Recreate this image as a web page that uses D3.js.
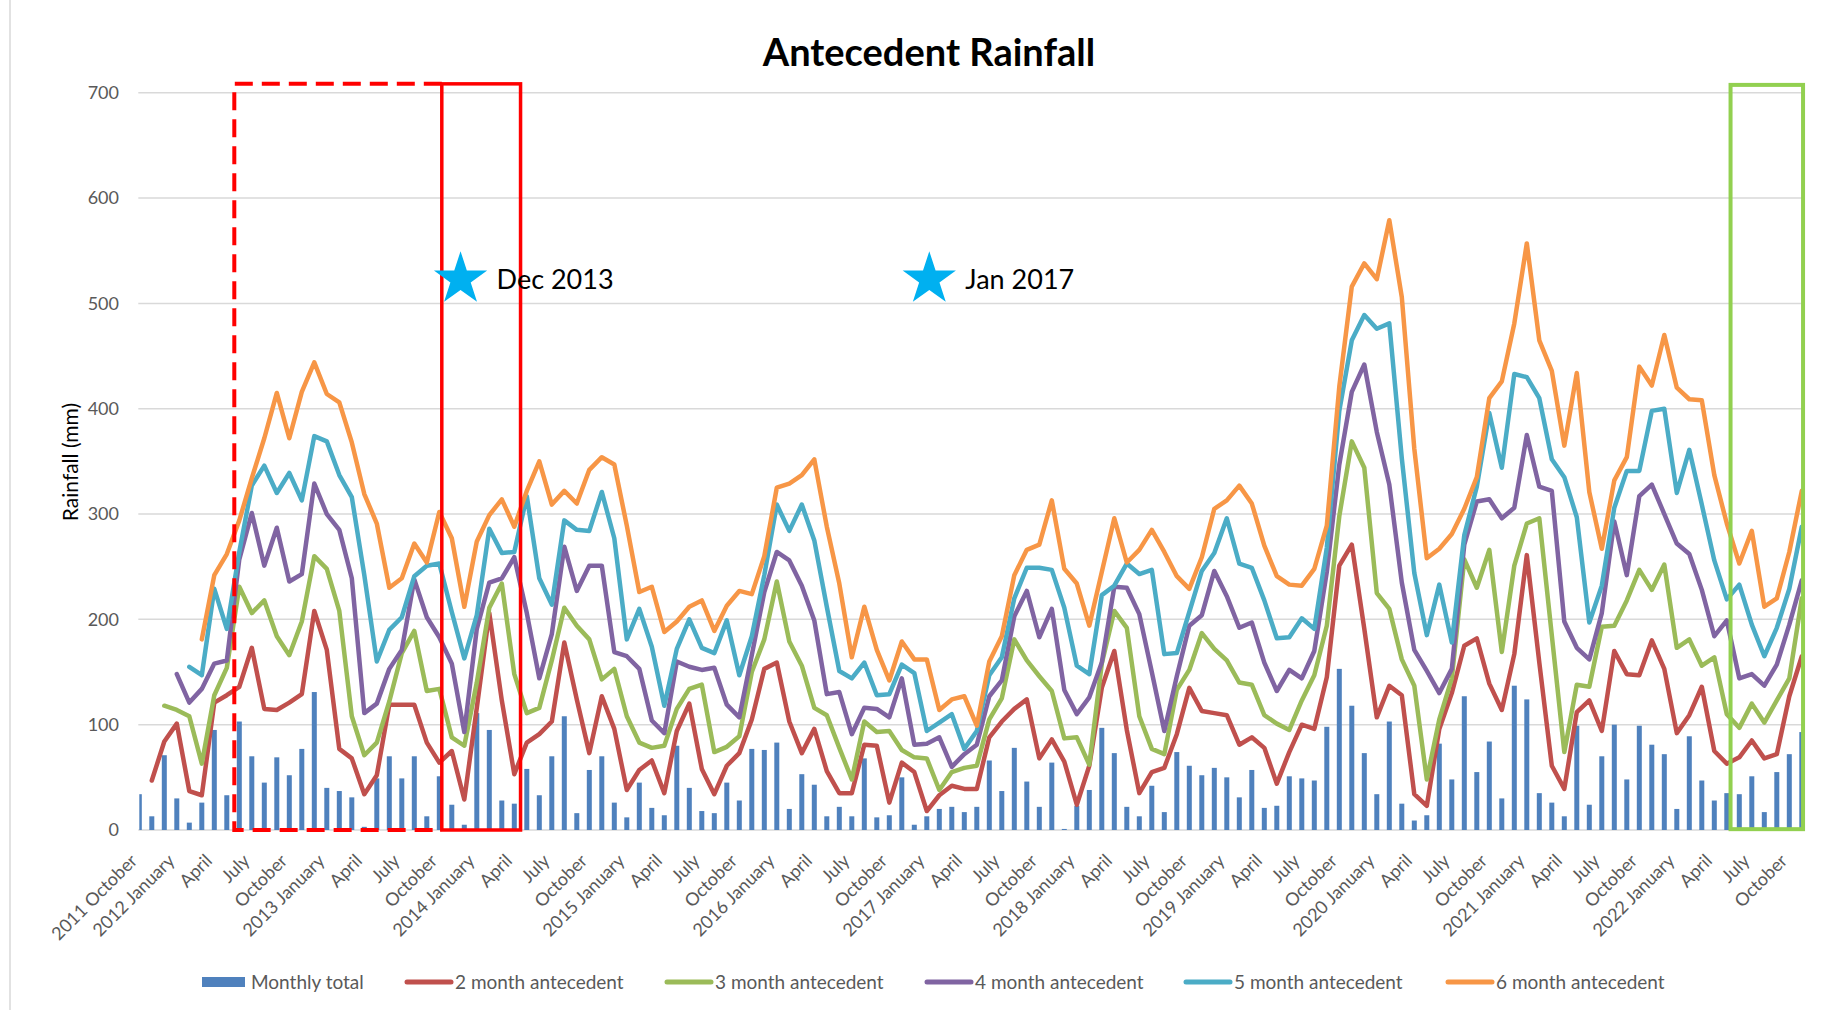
<html>
<head>
<meta charset="utf-8">
<title>Antecedent Rainfall</title>
<style>
body {
  margin: 0;
  background: #fff;
}

#chart text {
  font-family: Lato, 'Open Sans', sans-serif;
}

#chart .grid line {
  stroke: #d9d9d9;
  stroke-width: 1.5;
}

#chart .ytick {
  font-size: 18px;
  fill: #595959;
}

#chart .xtick {
  font-size: 18px;
  fill: #595959;
}

#chart .legend text {
  font-size: 19px;
  fill: #595959;
}

#chart .series {
  fill: none;
  stroke-width: 4.5;
  stroke-linejoin: round;
  stroke-linecap: round;
}
</style>
</head>
<body>

<svg id='chart' width='1828' height='1010'></svg>

<script src='https://cdn.jsdelivr.net/npm/d3@7'></script>
<script>
// Monthly rainfall, Oct 2011 .. Nov 2022 (mm).
const monthlyTotal = [
  34, 13, 71, 30, 7, 26, 95, 33, 103, 70,
  45, 69, 52, 77, 131, 40, 37, 31, 3, 49,
  70, 49, 70, 13, 51, 24, 5, 111, 95, 28,
  25, 58, 33, 70, 108, 16, 57, 70, 26, 12,
  45, 21, 14, 80, 40, 18, 16, 45, 28, 77,
  76, 83, 20, 53, 43, 13, 22, 13, 68, 12,
  14, 50, 5, 13, 20, 22, 17, 22, 66, 37,
  78, 46, 22, 64, 1, 23, 38, 97, 73, 22,
  13, 42, 17, 74, 61, 52, 59, 50, 31, 57,
  21, 23, 51, 49, 47, 98, 153, 118, 73, 34,
  103, 25, 9, 14, 82, 48, 127, 55, 84, 30,
  137, 124, 35, 26, 13, 99, 24, 70, 100, 48,
  99, 81, 72, 20, 89, 47, 28, 35, 34, 51,
  17, 55, 72, 93
];

const ante2 = [
  null, 47, 84, 101, 37, 33, 121, 128, 136, 173,
  115, 114, 121, 129, 208, 171, 77, 68, 34, 52,
  119, 119, 119, 83, 64, 75, 29, 116, 206, 123,
  53, 83, 91, 103, 178, 124, 73, 127, 96, 38,
  57, 66, 35, 94, 120, 58, 34, 61, 73, 105,
  153, 159, 103, 73, 96, 56, 35, 35, 81, 80,
  26, 64, 55, 18, 33, 42, 39, 39, 88, 103,
  115, 124, 68, 86, 65, 24, 61, 135, 170, 95,
  35, 55, 59, 91, 135, 113, 111, 109, 81, 88,
  78, 44, 74, 100, 96, 145, 251, 271, 191, 107,
  137, 128, 34, 23, 96, 130, 175, 182, 139, 114,
  167, 261, 159, 61, 39, 112, 123, 94, 170, 148,
  147, 180, 153, 92, 109, 136, 75, 63, 69, 85,
  68, 72, 127, 165
];

const ante3 = [
  null, null, 118, 114, 108, 63, 128, 154, 231, 206,
  218, 184, 166, 198, 260, 248, 208, 108, 71, 83,
  122, 168, 189, 132, 134, 88, 80, 140, 211, 234,
  148, 111, 116, 161, 211, 194, 181, 143, 153, 108,
  83, 78, 80, 115, 134, 138, 74, 79, 89, 150,
  181, 236, 179, 156, 116, 109, 78, 48, 103, 93,
  94, 76, 69, 68, 38, 55, 59, 61, 105, 125,
  181, 161, 146, 132, 87, 88, 62, 158, 208, 192,
  108, 77, 72, 133, 152, 187, 172, 161, 140, 138,
  109, 101, 95, 123, 147, 194, 298, 369, 344, 225,
  210, 162, 137, 48, 105, 144, 257, 230, 266, 169,
  251, 291, 296, 185, 74, 138, 136, 193, 194, 218,
  247, 228, 252, 173, 181, 156, 164, 110, 97, 120,
  102, 123, 144, 220
];

const ante4 = [
  null, null, null, 148, 121, 134, 158, 161, 257, 301,
  251, 287, 236, 243, 329, 300, 285, 239, 111, 120,
  153, 171, 238, 202, 183, 158, 93, 191, 235, 239,
  259, 206, 144, 186, 269, 227, 251, 251, 169, 165,
  153, 104, 92, 160, 155, 152, 154, 119, 107, 166,
  226, 264, 256, 232, 199, 129, 131, 91, 116, 115,
  107, 144, 81, 82, 88, 60, 72, 81, 127, 142,
  203, 227, 183, 210, 133, 110, 126, 159, 231, 230,
  205, 150, 94, 146, 194, 204, 246, 222, 192, 197,
  159, 132, 152, 144, 170, 245, 347, 416, 442, 378,
  328, 235, 171, 151, 130, 153, 271, 312, 314, 296,
  306, 375, 326, 322, 198, 173, 162, 206, 293, 242,
  317, 328, 300, 272, 262, 228, 184, 199, 144, 148,
  137, 157, 195, 237
];

const ante5 = [
  null, null, null, null, 155, 147, 229, 191, 264, 327,
  346, 320, 339, 313, 374, 369, 337, 316, 242, 160,
  190, 202, 241, 251, 253, 207, 163, 204, 286, 263,
  264, 317, 239, 214, 294, 285, 284, 321, 277, 181,
  210, 174, 118, 172, 200, 173, 168, 199, 147, 184,
  242, 309, 284, 309, 275, 212, 151, 144, 159, 128,
  129, 157, 149, 94, 102, 110, 77, 94, 147, 164,
  220, 249, 249, 247, 211, 156, 148, 223, 232, 253,
  243, 247, 167, 168, 207, 246, 263, 296, 253, 249,
  218, 182, 183, 201, 191, 268, 398, 465, 489, 476,
  481, 353, 244, 185, 233, 178, 280, 326, 396, 344,
  433, 430, 410, 352, 335, 297, 197, 232, 306, 341,
  341, 398, 400, 320, 361, 309, 256, 219, 233, 195,
  165, 192, 229, 288
];

const ante6 = [
  null, null, null, null, null, 181, 242, 262, 294, 334,
  372, 415, 372, 416, 444, 414, 406, 368, 319, 291,
  230, 239, 272, 254, 302, 277, 212, 274, 299, 314,
  288, 322, 350, 309, 322, 310, 342, 354, 347, 289,
  226, 231, 188, 198, 212, 218, 189, 213, 227, 224,
  260, 325, 329, 337, 352, 288, 234, 164, 212, 171,
  142, 179, 162, 162, 114, 124, 127, 99, 160, 184,
  242, 266, 271, 313, 248, 234, 194, 245, 296, 254,
  266, 285, 264, 241, 229, 259, 305, 313, 327, 310,
  270, 241, 233, 232, 248, 289, 421, 516, 538, 523,
  579, 506, 362, 258, 267, 281, 305, 335, 410, 426,
  481, 557, 465, 436, 365, 434, 321, 267, 332, 354,
  440, 422, 470, 420, 409, 408, 337, 291, 253, 284,
  212, 220, 264, 322
];

// One label on every third month, starting Oct 2011.
const tickLabels = [
  '2011 October', '2012 January', 'April', 'July', 'October',
  '2013 January', 'April', 'July', 'October',
  '2014 January', 'April', 'July', 'October',
  '2015 January', 'April', 'July', 'October',
  '2016 January', 'April', 'July', 'October',
  '2017 January', 'April', 'July', 'October',
  '2018 January', 'April', 'July', 'October',
  '2019 January', 'April', 'July', 'October',
  '2020 January', 'April', 'July', 'October',
  '2021 January', 'April', 'July', 'October',
  '2022 January', 'April', 'July', 'October'
];

const yTicks = [0, 100, 200, 300, 400, 500, 600, 700];

const seriesNames = ['Monthly total', '2 month antecedent', '3 month antecedent',
                     '4 month antecedent', '5 month antecedent', '6 month antecedent'];
const seriesColors = ['#4f81bd', '#c0504d', '#9bbb59', '#8064a2', '#4bacc6', '#f79646'];

// Highlighted periods (month index ranges) and event markers.
const dashedBox = [7.6, 24.2];
const solidBox = [24.2, 30.5];
const greenBox = [127.3, 133.1];
const events = [
  {label: 'Dec 2013', month: 25.7, value: 523},
  {label: 'Jan 2017', month: 63.2, value: 523}
];


const svg = d3.select('#chart');
const plotLeft = 139.3, plotRight = 1801.8, plotTop = 92.8, plotBottom = 830;

const x = d3.scaleLinear().domain([0, monthlyTotal.length - 1]).range([plotLeft, plotRight]);
const y = d3.scaleLinear().domain([0, 700]).range([plotBottom, plotTop]);

// Chart frame edge.
svg.append('line')
  .attr('x1', 10).attr('x2', 10).attr('y1', 0).attr('y2', 1010)
  .attr('stroke', '#d9d9d9').attr('stroke-width', 1.5);

// Title.
svg.append('text')
  .attr('x', 929).attr('y', 66)
  .attr('text-anchor', 'middle')
  .style('font-size', '38px')
  .style('font-weight', 'bold')
  .text('Antecedent Rainfall');

// Gridlines and y labels.
const grid = svg.append('g').attr('class', 'grid');
grid.selectAll('line')
  .data(yTicks)
  .join('line')
  .attr('x1', plotLeft - 1).attr('x2', plotRight + 3)
  .attr('y1', d => y(d)).attr('y2', d => y(d));

svg.selectAll('.ytick')
  .data(yTicks)
  .join('text')
  .attr('class', 'ytick')
  .attr('x', 119)
  .attr('y', d => y(d))
  .attr('dy', '0.35em')
  .attr('text-anchor', 'end')
  .text(d => d);

svg.append('text')
  .attr('transform', 'translate(78, 462) rotate(-90)')
  .attr('text-anchor', 'middle')
  .style('font-size', '21px')
  .text('Rainfall (mm)');

// x labels, every third month.
svg.selectAll('.xtick')
  .data(tickLabels)
  .join('text')
  .attr('class', 'xtick')
  .attr('text-anchor', 'end')
  .attr('transform', (d, i) => `translate(${x(i * 3) - 1}, 862) rotate(-45)`)
  .text(d => d);

// Bars (half of the end bars sit outside the plot, like the original).
svg.append('clipPath').attr('id', 'plot-clip')
  .append('rect')
  .attr('x', plotLeft).attr('y', 0)
  .attr('width', plotRight - plotLeft + 3).attr('height', plotBottom);

svg.append('g')
  .attr('clip-path', 'url(#plot-clip)')
  .selectAll('rect')
  .data(monthlyTotal)
  .join('rect')
  .attr('x', (d, i) => x(i) - 2.5)
  .attr('width', 5)
  .attr('y', d => y(d))
  .attr('height', d => y(0) - y(d))
  .attr('fill', seriesColors[0]);

// Antecedent lines.
const line = d3.line()
  .defined(d => d != null)
  .x((d, i) => x(i))
  .y(d => y(d));

const lines = [ante2, ante3, ante4, ante5, ante6];
lines.forEach((arr, k) => {
  svg.append('path')
    .datum(arr)
    .attr('class', 'series')
    .attr('stroke', seriesColors[k + 1])
    .attr('d', line);
});

// Highlight boxes.
const boxTop = y(708.5);
svg.append('path')
  .attr('d', `M${x(dashedBox[1])},${boxTop} H${x(dashedBox[0])} V${plotBottom} H${x(dashedBox[1])}`)
  .attr('fill', 'none')
  .attr('stroke', '#ff0000')
  .attr('stroke-width', 4)
  .attr('stroke-dasharray', '18 9');

svg.append('rect')
  .attr('x', x(solidBox[0])).attr('y', boxTop)
  .attr('width', x(solidBox[1]) - x(solidBox[0]))
  .attr('height', plotBottom - boxTop)
  .attr('fill', 'none')
  .attr('stroke', '#ff0000')
  .attr('stroke-width', 3.5);

svg.append('rect')
  .attr('x', x(greenBox[0])).attr('y', y(707.5))
  .attr('width', x(greenBox[1]) - x(greenBox[0]))
  .attr('height', y(0.8) - y(707.5))
  .attr('fill', 'none')
  .attr('stroke', '#92d050')
  .attr('stroke-width', 4);

// Event stars.
function starPath(r) {
  const pts = [];
  for (let i = 0; i < 10; ++i) {
    const rad = (i % 2 === 0) ? r : r * 0.382;
    const a = -Math.PI / 2 + i * Math.PI / 5;
    pts.push([rad * Math.cos(a), rad * Math.sin(a)]);
  }
  return 'M' + pts.map(p => p.join(',')).join('L') + 'Z';
}

const ev = svg.selectAll('.event')
  .data(events)
  .join('g')
  .attr('class', 'event')
  .attr('transform', d => `translate(${x(d.month)}, ${y(d.value)})`);
ev.append('path')
  .attr('d', starPath(28))
  .attr('fill', '#00b0f0');
ev.append('text')
  .attr('x', 36).attr('y', 10)
  .style('font-size', '27px')
  .text(d => d.label);

// Legend.
const legendX = [202, 405, 665, 925, 1184, 1446];
const legend = svg.append('g').attr('class', 'legend');
seriesNames.forEach((name, k) => {
  const g = legend.append('g').attr('transform', `translate(${legendX[k]}, 982)`);
  if (k === 0) {
    g.append('rect')
      .attr('x', 0).attr('y', -5).attr('width', 43).attr('height', 10)
      .attr('fill', seriesColors[0]);
  } else {
    g.append('line')
      .attr('x1', 2).attr('x2', 46)
      .attr('stroke', seriesColors[k])
      .attr('stroke-width', 5)
      .attr('stroke-linecap', 'round');
  }
  g.append('text')
    .attr('x', k === 0 ? 49 : 50)
    .attr('dy', '0.35em')
    .text(name);
});
</script>
</body>
</html>
